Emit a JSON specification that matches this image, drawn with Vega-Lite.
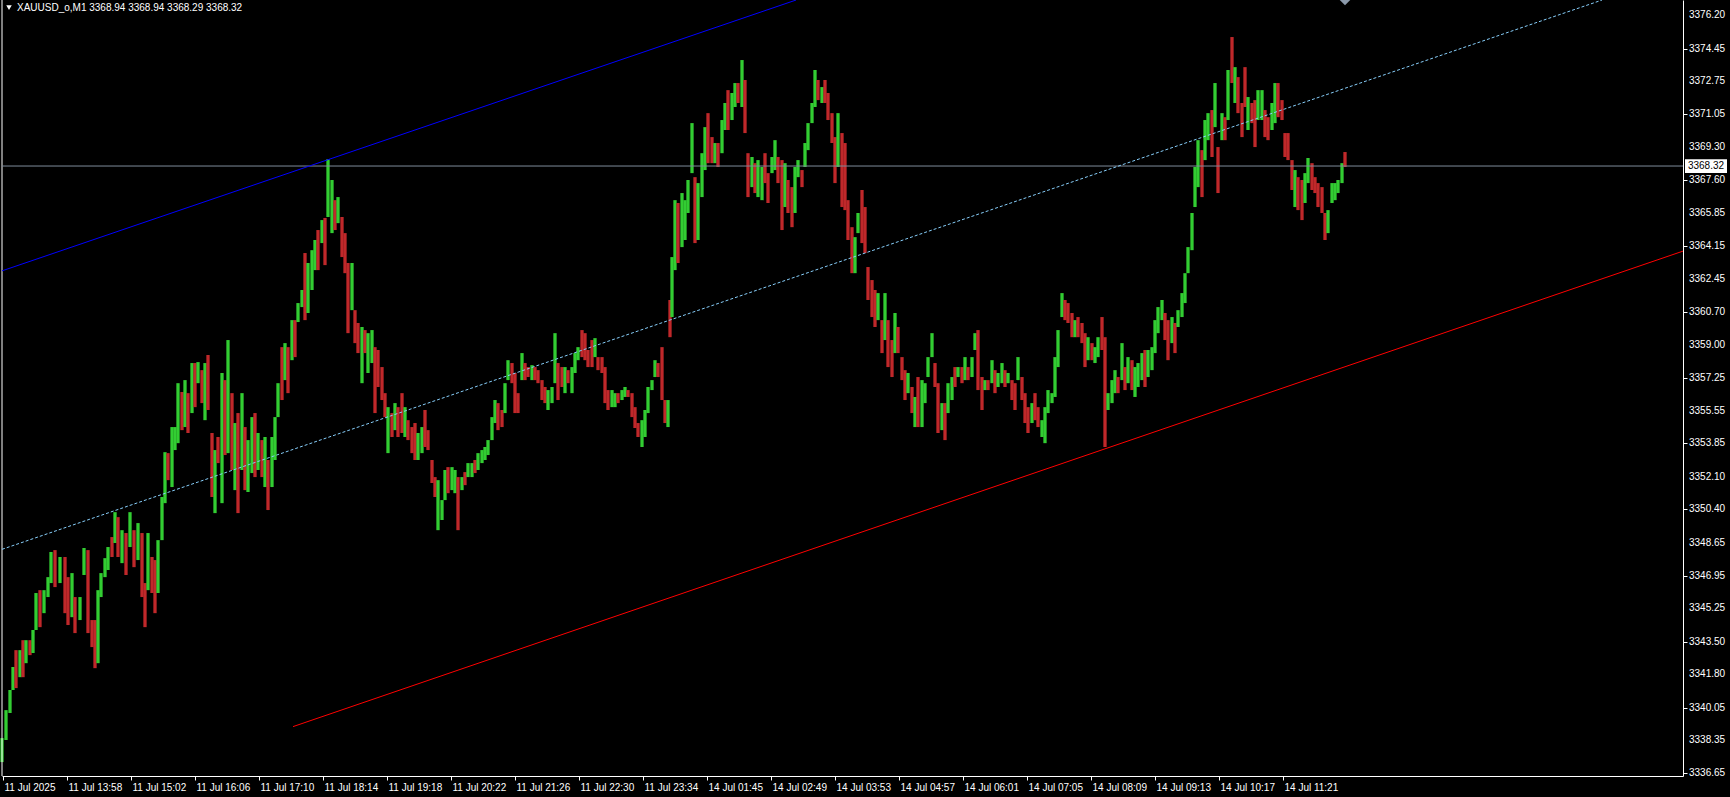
{
"$schema":"https://vega.github.io/schema/vega-lite/v6.json",
"width":1681,"height":776,
"autosize":{"type":"none"},
"padding":{"left":2,"top":0,"right":47,"bottom":21},
"background":"#000000",
"config":{"view":{"stroke":null}},
"datasets":{
"yl":[{"v":3376.20},{"v":3374.45},{"v":3372.75},{"v":3371.05},{"v":3369.30},{"v":3367.60},{"v":3365.85},{"v":3364.15},{"v":3362.45},{"v":3360.70},{"v":3359.00},{"v":3357.25},{"v":3355.55},{"v":3353.85},{"v":3352.10},{"v":3350.40},{"v":3348.65},{"v":3346.95},{"v":3345.25},{"v":3343.50},{"v":3341.80},{"v":3340.05},{"v":3338.35},{"v":3336.65}],
"ln":[
{"k":"blue","t":2,"p":3362.85},{"k":"blue","t":796,"p":3376.98},
{"k":"mid","t":2,"p":3348.32},{"k":"mid","t":1602,"p":3376.98},
{"k":"red","t":293,"p":3339.07},{"k":"red","t":1683,"p":3363.88}
],
"c":[
{"t":2,"h":3338.47,"l":3337.22,"u":1},{"t":6,"h":3339.93,"l":3338.37,"u":1},{"t":10,"h":3340.98,"l":3339.78,"u":1},{"t":13,"h":3342.18,"l":3340.98,"u":1},{"t":16,"h":3343.06,"l":3341.08,"u":0},{"t":20,"h":3343.06,"l":3341.65,"u":1},{"t":23,"h":3343.58,"l":3341.65,"u":0},{"t":26,"h":3343.58,"l":3342.38,"u":1},{"t":30,"h":3343.58,"l":3342.80,"u":0},{"t":33,"h":3344.11,"l":3342.91,"u":1},
{"t":36,"h":3346.04,"l":3344.11,"u":1},{"t":40,"h":3346.19,"l":3344.26,"u":0},{"t":44,"h":3346.19,"l":3344.99,"u":1},{"t":48,"h":3346.87,"l":3345.83,"u":1},{"t":51,"h":3348.18,"l":3346.56,"u":1},{"t":55,"h":3348.28,"l":3346.35,"u":0},{"t":60,"h":3347.92,"l":3346.56,"u":1},{"t":65,"h":3347.92,"l":3344.99,"u":0},{"t":68,"h":3346.87,"l":3344.37,"u":0},{"t":72,"h":3347.08,"l":3344.78,"u":1},
{"t":75,"h":3345.83,"l":3343.95,"u":0},{"t":80,"h":3345.83,"l":3344.63,"u":1},{"t":84,"h":3348.39,"l":3346.98,"u":1},{"t":88,"h":3348.28,"l":3343.95,"u":0},{"t":92,"h":3344.63,"l":3343.22,"u":0},{"t":95,"h":3344.63,"l":3342.12,"u":0},{"t":98,"h":3346.19,"l":3342.38,"u":1},{"t":101,"h":3347.08,"l":3345.83,"u":1},{"t":105,"h":3347.86,"l":3346.87,"u":1},{"t":108,"h":3348.44,"l":3347.24,"u":1},
{"t":112,"h":3348.96,"l":3347.92,"u":0},{"t":115,"h":3350.26,"l":3348.65,"u":1},{"t":118,"h":3350.00,"l":3347.92,"u":0},{"t":122,"h":3349.32,"l":3347.60,"u":1},{"t":126,"h":3349.17,"l":3346.98,"u":0},{"t":130,"h":3350.26,"l":3348.44,"u":1},{"t":134,"h":3349.32,"l":3347.39,"u":0},{"t":138,"h":3349.69,"l":3347.76,"u":1},{"t":142,"h":3349.17,"l":3345.83,"u":0},{"t":145,"h":3346.56,"l":3344.26,"u":0},
{"t":148,"h":3349.17,"l":3346.19,"u":1},{"t":152,"h":3347.92,"l":3346.04,"u":0},{"t":155,"h":3347.76,"l":3344.99,"u":0},{"t":158,"h":3348.80,"l":3346.04,"u":1},{"t":162,"h":3351.05,"l":3348.80,"u":1},{"t":165,"h":3353.39,"l":3350.73,"u":1},{"t":168,"h":3353.34,"l":3351.93,"u":0},{"t":172,"h":3354.70,"l":3351.57,"u":1},{"t":175,"h":3354.70,"l":3353.50,"u":1},{"t":178,"h":3356.99,"l":3353.86,"u":1},
{"t":182,"h":3356.53,"l":3354.54,"u":0},{"t":185,"h":3357.15,"l":3354.70,"u":1},{"t":188,"h":3356.47,"l":3354.39,"u":0},{"t":192,"h":3358.04,"l":3355.43,"u":1},{"t":195,"h":3358.04,"l":3355.74,"u":0},{"t":198,"h":3358.09,"l":3356.99,"u":1},{"t":202,"h":3357.67,"l":3355.95,"u":0},{"t":205,"h":3358.04,"l":3355.06,"u":1},{"t":208,"h":3358.46,"l":3355.59,"u":0},{"t":212,"h":3354.39,"l":3351.05,"u":0},
{"t":215,"h":3353.50,"l":3350.21,"u":1},{"t":218,"h":3354.18,"l":3352.82,"u":0},{"t":222,"h":3357.52,"l":3350.73,"u":1},{"t":225,"h":3357.15,"l":3353.24,"u":0},{"t":228,"h":3359.24,"l":3353.34,"u":1},{"t":232,"h":3356.47,"l":3352.46,"u":0},{"t":235,"h":3354.91,"l":3351.41,"u":1},{"t":238,"h":3355.43,"l":3350.21,"u":0},{"t":242,"h":3356.47,"l":3352.46,"u":1},{"t":245,"h":3354.70,"l":3351.41,"u":0},
{"t":248,"h":3354.02,"l":3351.31,"u":1},{"t":252,"h":3355.22,"l":3352.30,"u":1},{"t":255,"h":3355.43,"l":3352.09,"u":0},{"t":258,"h":3354.39,"l":3352.46,"u":1},{"t":262,"h":3354.02,"l":3352.09,"u":0},{"t":265,"h":3354.18,"l":3351.57,"u":1},{"t":268,"h":3352.98,"l":3350.37,"u":0},{"t":272,"h":3354.18,"l":3351.57,"u":1},{"t":275,"h":3355.22,"l":3352.98,"u":1},{"t":278,"h":3356.99,"l":3355.22,"u":1},
{"t":282,"h":3358.87,"l":3356.11,"u":0},{"t":285,"h":3359.08,"l":3357.15,"u":1},{"t":288,"h":3358.87,"l":3356.47,"u":0},{"t":292,"h":3360.28,"l":3358.19,"u":1},{"t":295,"h":3360.28,"l":3358.35,"u":0},{"t":298,"h":3361.17,"l":3360.18,"u":1},{"t":302,"h":3361.85,"l":3360.96,"u":1},{"t":305,"h":3363.78,"l":3360.28,"u":0},{"t":308,"h":3363.26,"l":3360.65,"u":1},{"t":312,"h":3363.93,"l":3361.85,"u":1},
{"t":315,"h":3364.46,"l":3362.89,"u":1},{"t":318,"h":3364.98,"l":3362.89,"u":0},{"t":322,"h":3365.50,"l":3364.30,"u":1},{"t":325,"h":3365.61,"l":3363.15,"u":0},{"t":328,"h":3368.68,"l":3365.66,"u":1},{"t":332,"h":3367.59,"l":3364.82,"u":1},{"t":335,"h":3366.54,"l":3364.98,"u":0},{"t":338,"h":3366.70,"l":3365.34,"u":1},{"t":342,"h":3365.66,"l":3363.57,"u":0},{"t":345,"h":3364.82,"l":3362.73,"u":0},
{"t":348,"h":3363.26,"l":3359.60,"u":0},{"t":352,"h":3363.26,"l":3360.80,"u":1},{"t":355,"h":3360.80,"l":3359.08,"u":0},{"t":358,"h":3360.13,"l":3358.56,"u":0},{"t":362,"h":3359.92,"l":3356.99,"u":1},{"t":365,"h":3359.76,"l":3358.56,"u":0},{"t":368,"h":3359.60,"l":3357.52,"u":1},{"t":372,"h":3359.76,"l":3358.04,"u":1},{"t":375,"h":3358.87,"l":3355.43,"u":0},{"t":378,"h":3358.72,"l":3356.79,"u":0},
{"t":382,"h":3357.83,"l":3356.11,"u":0},{"t":385,"h":3356.47,"l":3355.22,"u":0},{"t":388,"h":3355.74,"l":3353.34,"u":1},{"t":392,"h":3355.43,"l":3354.18,"u":0},{"t":395,"h":3355.95,"l":3354.54,"u":1},{"t":398,"h":3355.74,"l":3354.18,"u":0},{"t":402,"h":3356.47,"l":3354.39,"u":0},{"t":405,"h":3355.74,"l":3354.18,"u":1},{"t":408,"h":3355.06,"l":3354.02,"u":0},{"t":412,"h":3354.70,"l":3353.34,"u":0},
{"t":415,"h":3354.91,"l":3352.98,"u":0},{"t":418,"h":3354.39,"l":3352.98,"u":1},{"t":422,"h":3354.70,"l":3353.34,"u":1},{"t":425,"h":3355.59,"l":3353.66,"u":0},{"t":428,"h":3354.54,"l":3353.50,"u":0},{"t":432,"h":3352.98,"l":3351.78,"u":0},{"t":435,"h":3352.09,"l":3351.05,"u":0},{"t":438,"h":3351.93,"l":3349.32,"u":1},{"t":442,"h":3350.89,"l":3349.85,"u":1},{"t":445,"h":3352.46,"l":3350.89,"u":1},
{"t":448,"h":3352.61,"l":3351.25,"u":0},{"t":452,"h":3352.61,"l":3351.41,"u":1},{"t":455,"h":3352.46,"l":3351.25,"u":1},{"t":458,"h":3352.09,"l":3349.32,"u":0},{"t":462,"h":3352.09,"l":3351.41,"u":1},{"t":465,"h":3352.35,"l":3351.67,"u":0},{"t":468,"h":3352.82,"l":3352.09,"u":1},{"t":472,"h":3352.82,"l":3352.09,"u":1},{"t":475,"h":3352.98,"l":3352.30,"u":0},{"t":478,"h":3353.34,"l":3352.46,"u":1},
{"t":482,"h":3353.50,"l":3352.82,"u":1},{"t":485,"h":3353.66,"l":3352.98,"u":1},{"t":488,"h":3354.02,"l":3353.24,"u":1},{"t":492,"h":3355.22,"l":3354.02,"u":1},{"t":495,"h":3356.11,"l":3354.91,"u":1},{"t":498,"h":3355.95,"l":3354.54,"u":0},{"t":502,"h":3355.59,"l":3354.70,"u":0},{"t":505,"h":3356.99,"l":3355.43,"u":1},{"t":508,"h":3358.19,"l":3357.15,"u":1},{"t":512,"h":3358.04,"l":3356.99,"u":0},
{"t":515,"h":3357.52,"l":3355.43,"u":0},{"t":518,"h":3356.47,"l":3355.43,"u":0},{"t":522,"h":3358.56,"l":3357.15,"u":1},{"t":525,"h":3358.04,"l":3357.15,"u":0},{"t":528,"h":3357.83,"l":3357.31,"u":0},{"t":532,"h":3357.93,"l":3357.15,"u":1},{"t":535,"h":3357.83,"l":3357.15,"u":0},{"t":538,"h":3357.67,"l":3356.99,"u":0},{"t":542,"h":3357.15,"l":3356.11,"u":0},{"t":545,"h":3356.79,"l":3355.95,"u":0},
{"t":548,"h":3356.63,"l":3355.59,"u":1},{"t":552,"h":3356.79,"l":3355.95,"u":1},{"t":555,"h":3359.60,"l":3356.99,"u":1},{"t":558,"h":3358.04,"l":3356.11,"u":0},{"t":562,"h":3357.83,"l":3356.79,"u":0},{"t":565,"h":3357.83,"l":3356.47,"u":1},{"t":568,"h":3357.67,"l":3356.99,"u":0},{"t":572,"h":3357.83,"l":3356.47,"u":1},{"t":575,"h":3358.56,"l":3357.52,"u":1},{"t":578,"h":3358.87,"l":3358.19,"u":1},
{"t":582,"h":3359.76,"l":3358.35,"u":0},{"t":585,"h":3359.60,"l":3358.19,"u":0},{"t":588,"h":3358.72,"l":3357.83,"u":0},{"t":592,"h":3359.24,"l":3357.83,"u":0},{"t":595,"h":3359.34,"l":3358.35,"u":1},{"t":598,"h":3358.35,"l":3357.67,"u":0},{"t":602,"h":3358.35,"l":3357.52,"u":0},{"t":605,"h":3357.83,"l":3355.95,"u":0},{"t":608,"h":3356.63,"l":3355.59,"u":0},{"t":612,"h":3356.63,"l":3355.74,"u":1},
{"t":615,"h":3356.47,"l":3355.74,"u":1},{"t":618,"h":3356.47,"l":3355.95,"u":0},{"t":622,"h":3356.63,"l":3356.11,"u":1},{"t":625,"h":3356.79,"l":3356.27,"u":1},{"t":628,"h":3356.63,"l":3356.27,"u":0},{"t":632,"h":3356.47,"l":3355.22,"u":0},{"t":635,"h":3355.74,"l":3354.65,"u":0},{"t":638,"h":3354.91,"l":3354.18,"u":0},{"t":642,"h":3355.06,"l":3353.66,"u":1},{"t":645,"h":3355.59,"l":3354.18,"u":1},
{"t":648,"h":3356.79,"l":3355.43,"u":1},{"t":652,"h":3357.15,"l":3356.63,"u":1},{"t":655,"h":3358.19,"l":3357.31,"u":1},{"t":658,"h":3358.04,"l":3357.31,"u":0},{"t":662,"h":3358.87,"l":3356.11,"u":0},{"t":665,"h":3356.11,"l":3354.91,"u":0},{"t":668,"h":3356.11,"l":3354.70,"u":1},{"t":670,"h":3361.33,"l":3359.39,"u":0},{"t":672,"h":3363.57,"l":3360.44,"u":1},{"t":675,"h":3366.54,"l":3362.89,"u":1},
{"t":678,"h":3366.39,"l":3363.26,"u":0},{"t":682,"h":3366.91,"l":3364.09,"u":1},{"t":685,"h":3366.54,"l":3364.46,"u":1},{"t":688,"h":3367.59,"l":3365.87,"u":1},{"t":692,"h":3370.56,"l":3367.95,"u":1},{"t":695,"h":3367.74,"l":3364.30,"u":0},{"t":698,"h":3367.43,"l":3364.46,"u":1},{"t":702,"h":3368.99,"l":3366.70,"u":1},{"t":705,"h":3370.35,"l":3368.11,"u":1},{"t":708,"h":3371.08,"l":3368.47,"u":0},
{"t":712,"h":3369.83,"l":3368.47,"u":0},{"t":715,"h":3369.52,"l":3368.47,"u":1},{"t":718,"h":3369.52,"l":3368.27,"u":0},{"t":722,"h":3370.72,"l":3368.99,"u":1},{"t":725,"h":3371.61,"l":3370.20,"u":1},{"t":728,"h":3372.28,"l":3370.20,"u":0},{"t":732,"h":3372.13,"l":3370.72,"u":1},{"t":735,"h":3372.65,"l":3371.40,"u":1},{"t":738,"h":3372.65,"l":3371.61,"u":0},{"t":742,"h":3373.85,"l":3371.40,"u":1},
{"t":745,"h":3372.81,"l":3370.04,"u":0},{"t":748,"h":3368.99,"l":3366.70,"u":0},{"t":752,"h":3368.79,"l":3367.22,"u":1},{"t":755,"h":3368.47,"l":3366.91,"u":0},{"t":758,"h":3368.63,"l":3366.70,"u":1},{"t":762,"h":3368.27,"l":3366.54,"u":1},{"t":765,"h":3368.99,"l":3367.43,"u":0},{"t":768,"h":3367.95,"l":3366.39,"u":0},{"t":772,"h":3368.79,"l":3367.95,"u":1},{"t":775,"h":3369.67,"l":3368.11,"u":1},
{"t":778,"h":3368.79,"l":3367.43,"u":0},{"t":782,"h":3368.63,"l":3364.98,"u":0},{"t":785,"h":3368.47,"l":3366.18,"u":1},{"t":788,"h":3367.59,"l":3365.87,"u":0},{"t":792,"h":3367.22,"l":3365.13,"u":0},{"t":795,"h":3368.27,"l":3365.87,"u":1},{"t":798,"h":3368.63,"l":3367.74,"u":1},{"t":802,"h":3368.11,"l":3367.22,"u":0},{"t":805,"h":3369.52,"l":3368.27,"u":1},{"t":808,"h":3370.56,"l":3369.15,"u":1},
{"t":812,"h":3371.61,"l":3370.56,"u":1},{"t":815,"h":3373.33,"l":3371.40,"u":1},{"t":818,"h":3372.81,"l":3371.76,"u":0},{"t":822,"h":3372.44,"l":3371.61,"u":1},{"t":825,"h":3372.81,"l":3371.61,"u":0},{"t":828,"h":3372.13,"l":3370.72,"u":0},{"t":832,"h":3371.08,"l":3369.52,"u":0},{"t":835,"h":3369.83,"l":3367.43,"u":0},{"t":838,"h":3371.08,"l":3368.27,"u":1},{"t":842,"h":3370.04,"l":3366.18,"u":0},
{"t":845,"h":3369.52,"l":3366.02,"u":0},{"t":848,"h":3366.54,"l":3364.46,"u":0},{"t":852,"h":3365.13,"l":3362.73,"u":0},{"t":855,"h":3364.61,"l":3362.73,"u":1},{"t":858,"h":3365.87,"l":3364.82,"u":1},{"t":862,"h":3367.07,"l":3364.30,"u":0},{"t":865,"h":3366.18,"l":3363.78,"u":0},{"t":868,"h":3363.05,"l":3361.33,"u":0},{"t":872,"h":3362.37,"l":3360.44,"u":0},{"t":875,"h":3361.85,"l":3359.92,"u":0},
{"t":878,"h":3361.69,"l":3360.28,"u":1},{"t":882,"h":3360.28,"l":3358.56,"u":0},{"t":885,"h":3361.69,"l":3359.24,"u":1},{"t":888,"h":3360.28,"l":3357.83,"u":0},{"t":892,"h":3359.24,"l":3357.31,"u":0},{"t":895,"h":3360.65,"l":3358.56,"u":1},{"t":898,"h":3359.92,"l":3358.56,"u":0},{"t":902,"h":3358.35,"l":3357.15,"u":0},{"t":905,"h":3357.67,"l":3356.11,"u":0},{"t":908,"h":3357.52,"l":3356.47,"u":1},
{"t":912,"h":3356.79,"l":3355.43,"u":0},{"t":915,"h":3356.27,"l":3354.70,"u":1},{"t":918,"h":3357.31,"l":3354.70,"u":0},{"t":922,"h":3357.15,"l":3354.70,"u":1},{"t":925,"h":3356.99,"l":3355.95,"u":1},{"t":928,"h":3358.35,"l":3357.31,"u":1},{"t":932,"h":3359.60,"l":3358.35,"u":1},{"t":935,"h":3358.04,"l":3356.79,"u":0},{"t":938,"h":3356.99,"l":3354.39,"u":0},{"t":942,"h":3355.95,"l":3354.54,"u":1},
{"t":945,"h":3355.95,"l":3354.02,"u":0},{"t":948,"h":3356.99,"l":3355.43,"u":1},{"t":952,"h":3357.31,"l":3356.11,"u":1},{"t":955,"h":3357.83,"l":3356.79,"u":0},{"t":958,"h":3357.83,"l":3357.31,"u":1},{"t":962,"h":3357.83,"l":3356.99,"u":0},{"t":965,"h":3358.35,"l":3357.15,"u":1},{"t":968,"h":3357.83,"l":3357.15,"u":0},{"t":972,"h":3358.35,"l":3357.31,"u":1},{"t":975,"h":3359.60,"l":3358.72,"u":1},
{"t":978,"h":3359.76,"l":3356.63,"u":0},{"t":982,"h":3357.31,"l":3355.59,"u":0},{"t":985,"h":3357.15,"l":3356.63,"u":1},{"t":988,"h":3357.15,"l":3356.63,"u":0},{"t":992,"h":3358.19,"l":3356.99,"u":1},{"t":995,"h":3357.67,"l":3356.47,"u":0},{"t":998,"h":3357.52,"l":3356.79,"u":1},{"t":1002,"h":3358.04,"l":3356.99,"u":1},{"t":1005,"h":3357.67,"l":3356.79,"u":0},{"t":1008,"h":3357.52,"l":3356.99,"u":1},
{"t":1012,"h":3357.15,"l":3356.11,"u":0},{"t":1015,"h":3356.99,"l":3355.59,"u":0},{"t":1018,"h":3358.35,"l":3357.15,"u":1},{"t":1022,"h":3357.31,"l":3356.11,"u":0},{"t":1025,"h":3356.47,"l":3354.91,"u":0},{"t":1028,"h":3355.74,"l":3354.39,"u":0},{"t":1032,"h":3355.95,"l":3354.91,"u":1},{"t":1035,"h":3356.47,"l":3355.06,"u":0},{"t":1038,"h":3355.74,"l":3354.70,"u":0},{"t":1042,"h":3355.06,"l":3354.18,"u":1},
{"t":1045,"h":3355.74,"l":3353.86,"u":1},{"t":1048,"h":3356.63,"l":3355.43,"u":1},{"t":1052,"h":3356.47,"l":3355.95,"u":1},{"t":1055,"h":3358.35,"l":3356.27,"u":1},{"t":1058,"h":3359.76,"l":3357.83,"u":1},{"t":1062,"h":3361.69,"l":3360.44,"u":1},{"t":1065,"h":3361.33,"l":3360.28,"u":0},{"t":1068,"h":3361.17,"l":3360.13,"u":0},{"t":1072,"h":3360.65,"l":3359.39,"u":0},{"t":1075,"h":3360.28,"l":3359.39,"u":1},
{"t":1078,"h":3360.44,"l":3359.39,"u":0},{"t":1082,"h":3360.13,"l":3359.08,"u":0},{"t":1085,"h":3359.60,"l":3357.83,"u":0},{"t":1088,"h":3359.39,"l":3358.19,"u":1},{"t":1092,"h":3359.08,"l":3358.19,"u":0},{"t":1095,"h":3358.87,"l":3358.04,"u":1},{"t":1098,"h":3359.39,"l":3358.35,"u":1},{"t":1102,"h":3360.44,"l":3358.72,"u":0},{"t":1105,"h":3359.39,"l":3353.66,"u":0},{"t":1108,"h":3356.47,"l":3355.59,"u":1},
{"t":1112,"h":3357.15,"l":3355.95,"u":1},{"t":1115,"h":3357.67,"l":3356.47,"u":1},{"t":1118,"h":3357.31,"l":3356.47,"u":0},{"t":1122,"h":3359.08,"l":3357.15,"u":1},{"t":1125,"h":3357.83,"l":3356.63,"u":0},{"t":1128,"h":3358.35,"l":3356.99,"u":1},{"t":1132,"h":3358.19,"l":3356.63,"u":0},{"t":1135,"h":3357.83,"l":3356.27,"u":1},{"t":1138,"h":3358.04,"l":3356.79,"u":1},{"t":1142,"h":3358.56,"l":3357.15,"u":1},
{"t":1145,"h":3358.72,"l":3356.79,"u":0},{"t":1148,"h":3358.72,"l":3357.31,"u":1},{"t":1152,"h":3358.87,"l":3357.67,"u":1},{"t":1155,"h":3360.28,"l":3358.56,"u":1},{"t":1158,"h":3360.96,"l":3359.60,"u":1},{"t":1162,"h":3361.33,"l":3360.28,"u":1},{"t":1165,"h":3360.65,"l":3359.24,"u":0},{"t":1168,"h":3360.28,"l":3358.19,"u":0},{"t":1172,"h":3360.44,"l":3359.08,"u":1},{"t":1175,"h":3360.13,"l":3358.56,"u":0},
{"t":1178,"h":3360.80,"l":3359.92,"u":1},{"t":1182,"h":3361.69,"l":3360.44,"u":1},{"t":1185,"h":3362.73,"l":3361.17,"u":1},{"t":1188,"h":3364.09,"l":3362.73,"u":1},{"t":1192,"h":3365.87,"l":3363.93,"u":1},{"t":1195,"h":3368.27,"l":3366.18,"u":1},{"t":1198,"h":3369.67,"l":3367.22,"u":1},{"t":1202,"h":3369.15,"l":3366.70,"u":0},{"t":1205,"h":3370.72,"l":3368.63,"u":1},{"t":1208,"h":3371.08,"l":3369.67,"u":1},
{"t":1212,"h":3371.24,"l":3368.79,"u":0},{"t":1215,"h":3372.65,"l":3370.35,"u":1},{"t":1218,"h":3369.31,"l":3366.91,"u":0},{"t":1222,"h":3371.08,"l":3369.67,"u":1},{"t":1225,"h":3370.87,"l":3369.67,"u":0},{"t":1228,"h":3373.33,"l":3370.72,"u":1},{"t":1232,"h":3375.05,"l":3372.65,"u":0},{"t":1235,"h":3373.48,"l":3371.61,"u":1},{"t":1238,"h":3372.96,"l":3371.08,"u":0},{"t":1242,"h":3371.61,"l":3369.83,"u":0},
{"t":1245,"h":3373.48,"l":3371.40,"u":0},{"t":1248,"h":3371.92,"l":3370.20,"u":1},{"t":1252,"h":3371.61,"l":3370.56,"u":0},{"t":1255,"h":3371.76,"l":3369.31,"u":0},{"t":1258,"h":3372.28,"l":3370.72,"u":1},{"t":1262,"h":3372.28,"l":3370.72,"u":1},{"t":1265,"h":3371.24,"l":3369.83,"u":0},{"t":1268,"h":3370.87,"l":3369.67,"u":0},{"t":1272,"h":3371.61,"l":3370.20,"u":1},{"t":1275,"h":3372.65,"l":3370.56,"u":1},
{"t":1278,"h":3372.65,"l":3370.87,"u":0},{"t":1282,"h":3371.76,"l":3370.72,"u":0},{"t":1285,"h":3370.04,"l":3368.79,"u":0},{"t":1288,"h":3370.04,"l":3368.63,"u":0},{"t":1292,"h":3368.63,"l":3367.07,"u":0},{"t":1295,"h":3368.11,"l":3366.18,"u":1},{"t":1298,"h":3367.74,"l":3366.02,"u":0},{"t":1302,"h":3367.59,"l":3365.50,"u":0},{"t":1305,"h":3367.95,"l":3366.39,"u":1},{"t":1308,"h":3368.74,"l":3367.43,"u":1},
{"t":1312,"h":3368.47,"l":3367.07,"u":0},{"t":1315,"h":3367.74,"l":3366.91,"u":0},{"t":1318,"h":3367.43,"l":3366.18,"u":0},{"t":1322,"h":3367.22,"l":3365.87,"u":0},{"t":1325,"h":3365.87,"l":3364.46,"u":0},{"t":1328,"h":3366.02,"l":3364.82,"u":1},{"t":1332,"h":3367.43,"l":3366.39,"u":1},{"t":1335,"h":3367.43,"l":3366.54,"u":1},{"t":1338,"h":3367.59,"l":3366.91,"u":1},{"t":1342,"h":3368.47,"l":3367.43,"u":1},
{"t":1345,"h":3369.05,"l":3368.27,"u":0}
]
},
"layer":[
{"data":{"name":"c"},"mark":{"type":"rule","strokeWidth":3.3,"zindex":2},
 "encoding":{
 "x":{"field":"t","type":"quantitative","scale":{"domain":[2,1683],"nice":false,"zero":false},
  "axis":{"title":null,"grid":false,"orient":"bottom","values":[3,67,131,195,259,323,387,451,515,579,643,707,771,835,899,963,1027,1091,1155,1219,1283],
   "labelExpr":"['11 Jul 2025','11 Jul 13:58','11 Jul 15:02','11 Jul 16:06','11 Jul 17:10','11 Jul 18:14','11 Jul 19:18','11 Jul 20:22','11 Jul 21:26','11 Jul 22:30','11 Jul 23:34','14 Jul 01:45','14 Jul 02:49','14 Jul 03:53','14 Jul 04:57','14 Jul 06:01','14 Jul 07:05','14 Jul 08:09','14 Jul 09:13','14 Jul 10:17','14 Jul 11:21'][round((datum.value-3)/64)]",
   "domainColor":"#ffffff","domainWidth":1,"tickColor":"#ffffff","tickSize":4,"labelColor":"#ffffff","labelFont":"Liberation Sans","labelFontSize":10,
   "labelAlign":"left","labelBaseline":"top","labelPadding":2,"labelOffset":1,"labelOverlap":false,"labelFlush":false,"labelBound":false,"zindex":3}},
 "y":{"field":"l","type":"quantitative","scale":{"domain":[3336.493,3376.983],"nice":false,"zero":false},
  "axis":{"title":null,"grid":false,"orient":"right","values":[3376.20,3374.45,3372.75,3371.05,3369.30,3367.60,3365.85,3364.15,3362.45,3360.70,3359.00,3357.25,3355.55,3353.85,3352.10,3350.40,3348.65,3346.95,3345.25,3343.50,3341.80,3340.05,3338.35,3336.65],
   "labels":false,"domainColor":"#ffffff","domainWidth":1,"tickColor":"#ffffff","tickSize":4,"zindex":3}},
 "y2":{"field":"h"},
 "color":{"field":"u","type":"nominal","scale":{"domain":[0,1],"range":["#c0282a","#32cd32"]},"legend":null}}},
{"data":{"name":"yl"},"mark":{"type":"text","color":"#ffffff","font":"Liberation Sans","fontSize":10,"align":"left","baseline":"middle","clip":false,"zindex":4},
 "encoding":{"x":{"datum":1689,"type":"quantitative"},"y":{"field":"v","type":"quantitative"},
 "text":{"field":"v","type":"quantitative","format":".2f"}}},
{"data":{"values":[{}]},"mark":{"type":"rule","color":"#ffffff","strokeWidth":1},
 "encoding":{"x":{"datum":2,"type":"quantitative"}}},
{"data":{"values":[{}]},"mark":{"type":"rule","color":"#7f8c9a","strokeWidth":1},
 "encoding":{"y":{"datum":3368.32,"type":"quantitative"}}},
{"data":{"name":"ln"},"transform":[{"filter":"datum.k=='blue'"}],"mark":{"type":"line","color":"#0000ff","strokeWidth":1},
 "encoding":{"x":{"field":"t","type":"quantitative"},"y":{"field":"p","type":"quantitative"}}},
{"data":{"name":"ln"},"transform":[{"filter":"datum.k=='mid'"}],"mark":{"type":"line","color":"#87cefa","strokeWidth":1,"strokeDash":[3,2]},
 "encoding":{"x":{"field":"t","type":"quantitative"},"y":{"field":"p","type":"quantitative"}}},
{"data":{"name":"ln"},"transform":[{"filter":"datum.k=='red'"}],"mark":{"type":"line","color":"#ff0000","strokeWidth":1},
 "encoding":{"x":{"field":"t","type":"quantitative"},"y":{"field":"p","type":"quantitative"}}},
{"data":{"values":[{}]},"mark":{"type":"text","color":"#ffffff","font":"Liberation Sans","fontSize":10,"align":"left","baseline":"middle","zindex":4},
 "encoding":{"x":{"datum":17,"type":"quantitative"},"y":{"datum":3376.59,"type":"quantitative"},
 "text":{"value":"XAUUSD_o,M1  3368.94 3368.94 3368.29 3368.32"}}},
{"data":{"values":[{}]},"mark":{"type":"point","shape":"triangle-down","filled":true,"color":"#ffffff","size":30,"opacity":1,"zindex":4},
 "encoding":{"x":{"datum":9,"type":"quantitative"},"y":{"datum":3376.59,"type":"quantitative"}}},
{"data":{"values":[{}]},"mark":{"type":"point","shape":"diamond","filled":true,"color":"#8c9aab","size":110,"opacity":1,"clip":true,"zindex":4},
 "encoding":{"x":{"datum":1345,"type":"quantitative"},"y":{"datum":3376.983,"type":"quantitative"}}},
{"data":{"values":[{}]},"mark":{"type":"rect","color":"#ffffff","clip":false,"zindex":5},
 "encoding":{"x":{"datum":1685,"type":"quantitative"},"x2":{"datum":1727},
 "y":{"datum":3368.68,"type":"quantitative"},"y2":{"datum":3367.96}}},
{"data":{"values":[{}]},"mark":{"type":"text","color":"#000000","font":"Liberation Sans","fontSize":10,"align":"center","baseline":"middle","clip":false,"zindex":6},
 "encoding":{"x":{"datum":1706,"type":"quantitative"},"y":{"datum":3368.32,"type":"quantitative"},
 "text":{"value":"3368.32"}}}
]
}
